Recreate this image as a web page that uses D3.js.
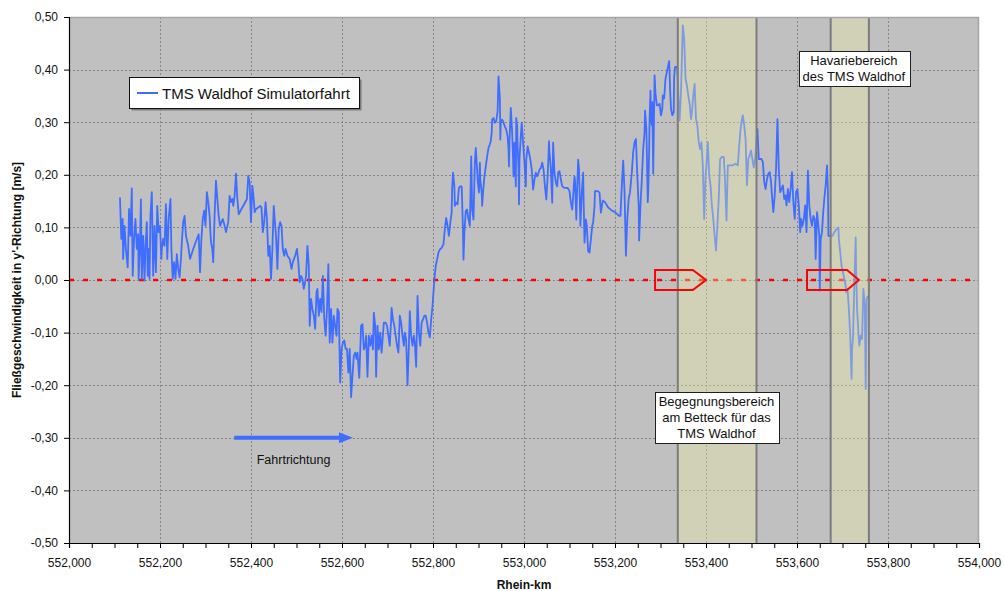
<!DOCTYPE html>
<html>
<head>
<meta charset="utf-8">
<script src="https://cdn.jsdelivr.net/npm/d3@7"></script>
<style>
  body { margin: 0; background: #ffffff; }
  svg text { font-family: "Liberation Sans", Arial, sans-serif; fill: #111; }
</style>
</head>
<body>
<svg id="chart" width="1004" height="591"></svg>
<script>
// Rhein-km of each sample (km)
const rheinKm = [
  552.112,552.115,552.118,552.119,552.122,552.125,552.129,552.132,552.135,552.138,
  552.140,552.143,552.146,552.149,552.152,552.153,552.156,552.158,552.160,552.163,
  552.166,552.168,552.171,552.173,552.175,552.177,552.179,552.182,552.185,552.188,
  552.191,552.194,552.197,552.200,552.203,552.204,552.207,552.210,552.213,552.216,
  552.219,552.223,552.225,552.228,552.231,552.234,552.237,552.240,552.243,552.246,
  552.248,552.251,552.254,552.257,552.262,552.266,552.273,552.281,552.285,552.288,
  552.291,552.294,552.297,552.300,552.303,552.306,552.309,552.312,552.315,552.317,
  552.320,552.323,552.326,552.329,552.332,552.335,552.338,552.342,552.345,552.350,
  552.353,552.356,552.359,552.361,552.364,552.367,552.370,552.373,552.379,552.385,
  552.391,552.394,552.397,552.400,552.403,552.406,552.408,552.411,552.416,552.420,
  552.423,552.426,552.429,552.432,552.435,552.438,552.441,552.444,552.447,552.450,
  552.452,552.455,552.458,552.461,552.464,552.467,552.470,552.473,552.476,552.480,
  552.485,552.489,552.492,552.497,552.501,552.504,552.507,552.510,552.513,552.516,
  552.519,552.521,552.524,552.527,552.529,552.532,552.535,552.538,552.541,552.544,
  552.546,552.549,552.552,552.555,552.558,552.561,552.564,552.567,552.570,552.573,
  552.576,552.579,552.582,552.585,552.588,552.590,552.593,552.596,552.599,552.602,
  552.605,552.608,552.611,552.614,552.617,552.620,552.623,552.626,552.629,552.632,
  552.634,552.638,552.642,552.645,552.648,552.651,552.653,552.656,552.659,552.662,
  552.665,552.668,552.670,552.673,552.675,552.678,552.681,552.684,552.687,552.692,
  552.696,552.699,552.702,552.705,552.708,552.709,552.712,552.715,552.718,552.721,
  552.724,552.727,552.730,552.733,552.736,552.738,552.741,552.744,552.747,552.749,
  552.752,552.755,552.758,552.760,552.763,552.766,552.769,552.772,552.775,552.778,
  552.781,552.784,552.787,552.790,552.793,552.796,552.799,552.801,552.803,552.806,
  552.809,552.812,552.815,552.819,552.823,552.826,552.829,552.832,552.835,552.838,
  552.841,552.842,552.844,552.847,552.848,552.851,552.854,552.857,552.860,552.863,
  552.864,552.866,552.867,552.869,552.872,552.875,552.878,552.881,552.884,552.885,
  552.886,552.889,552.892,552.894,552.897,552.898,552.901,552.903,552.904,552.907,
  552.908,552.910,552.913,552.916,552.919,552.922,552.925,552.927,552.929,552.930,
  552.933,552.936,552.939,552.942,552.944,552.947,552.948,552.949,552.952,552.955,
  552.958,552.961,552.964,552.966,552.967,552.968,552.971,552.974,552.976,552.977,
  552.979,552.982,552.983,552.985,552.986,552.988,552.989,552.990,552.993,552.995,
  552.998,553.001,553.004,553.005,553.008,553.011,553.014,553.017,553.020,553.023,
  553.026,553.029,553.032,553.034,553.037,553.040,553.043,553.046,553.049,553.052,
  553.055,553.056,553.058,553.059,553.062,553.064,553.067,553.070,553.073,553.075,
  553.078,553.081,553.084,553.089,553.096,553.100,553.103,553.106,553.108,553.111,
  553.112,553.115,553.116,553.119,553.121,553.124,553.127,553.130,553.131,553.133,
  553.136,553.138,553.141,553.144,553.147,553.150,553.152,553.155,553.156,553.162,
  553.166,553.169,
  553.173,553.178,553.185,553.193,553.200,553.209,553.212,553.215,553.218,553.221,
  553.224,553.227,553.230,553.233,553.237,553.240,553.243,553.246,553.249,553.252,
  553.253,553.256,553.259,553.262,553.265,553.266,553.269,553.272,553.273,553.275,
  553.276,553.278,553.279,553.281,553.282,553.284,553.287,553.289,553.292,553.295,
  553.298,553.301,553.304,553.305,553.308,553.311,553.314,553.317,553.319,553.320,
  553.321,553.323,553.326,553.329,553.330,553.332,553.335,553.337,553.340,553.342,
  553.345,553.348,553.349,553.352,553.355,553.358,553.361,553.364,553.367,553.369,
  553.372,553.375,553.378,553.381,553.384,553.387,553.390,553.393,553.396,553.399,
  553.401,553.404,553.407,553.410,553.413,553.416,553.419,553.422,553.425,553.428,
  553.431,553.435,553.439,553.442,553.445,553.448,553.451,553.458,553.465,553.470,
  553.473,553.476,553.479,553.481,553.484,553.487,553.490,553.493,553.496,553.499,
  553.502,553.505,553.508,553.511,553.513,553.516,553.519,553.522,553.525,553.528,
  553.531,553.534,553.537,553.540,553.543,553.545,553.548,553.551,553.554,553.557,
  553.560,553.563,553.566,553.569,553.572,553.575,553.577,553.580,553.583,553.586,
  553.589,553.592,553.595,553.598,553.601,553.604,553.607,553.609,553.612,553.615,
  553.618,553.621,553.624,553.627,553.630,553.633,553.636,553.639,553.641,553.644,
  553.647,553.649,553.650,553.652,553.655,553.657,553.660,553.663,553.666,553.668,
  553.669,553.673,553.678,553.682,553.687,553.691,553.692,553.695,553.698,553.701,
  553.704,553.707,553.708,553.711,553.714,553.717,553.720,553.721,553.723,553.726,
  553.729,553.730,553.732,553.735,553.737,553.740,553.743,553.746,553.749,553.751,
  553.753,553.756
];

// Flow velocity in y'-direction (m/s)
const flowSpeed = [
  0.157,0.078,0.116,0.040,0.103,0.059,0.024,0.135,0.084,0.174,
  0.008,0.078,0.116,0.059,0.087,0.002,0.065,0.153,0.002,0.084,
  -0.001,0.059,0.110,0.008,0.059,0.002,0.122,0.167,0.008,0.103,
  0.015,0.141,0.091,0.103,0.040,0.059,0.078,0.065,0.144,0.040,
  0.116,0.154,0.059,0.002,0.034,0.002,0.049,0.021,0.005,0.040,
  0.072,0.110,0.122,0.084,0.065,0.040,0.059,0.078,0.087,0.015,
  0.078,0.116,0.132,0.103,0.167,0.148,0.122,0.072,0.059,0.034,
  0.122,0.189,0.154,0.122,0.103,0.110,0.116,0.103,0.091,0.110,
  0.160,0.148,0.154,0.141,0.160,0.202,0.154,0.125,0.135,0.144,
  0.154,0.198,0.186,0.110,0.179,0.154,0.129,0.135,0.138,0.141,
  0.138,0.091,0.110,0.148,0.116,0.046,0.065,0.002,0.059,0.141,
  0.116,0.084,0.021,0.097,0.110,0.103,0.059,0.046,0.059,0.046,
  0.040,0.021,0.034,0.046,0.059,0.034,-0.004,0.008,0.002,-0.017,
  -0.004,0.008,0.065,0.027,-0.087,-0.036,-0.055,-0.068,-0.093,-0.023,
  -0.017,-0.068,-0.036,-0.061,0.008,-0.074,-0.106,-0.055,0.030,-0.119,
  -0.055,-0.119,-0.068,-0.087,-0.106,-0.055,-0.061,-0.195,-0.131,-0.119,
  -0.115,-0.131,-0.131,-0.176,-0.131,-0.223,-0.182,-0.144,-0.138,-0.150,
  -0.138,-0.186,-0.087,-0.084,-0.132,-0.125,-0.106,-0.184,-0.106,-0.125,
  -0.106,-0.132,-0.062,-0.087,-0.184,-0.087,-0.132,-0.100,-0.138,-0.081,
  -0.081,-0.087,-0.106,-0.125,-0.075,-0.053,-0.075,-0.087,-0.106,-0.125,
  -0.138,-0.068,-0.081,-0.106,-0.125,-0.100,-0.113,-0.200,-0.125,-0.059,
  -0.106,-0.125,-0.106,-0.119,-0.165,-0.030,-0.100,-0.125,-0.081,-0.075,
  -0.068,-0.068,-0.081,-0.100,-0.109,-0.075,-0.049,-0.024,0.001,0.027,
  0.039,0.052,0.058,0.061,0.068,0.096,0.118,0.103,0.084,0.109,
  0.128,0.172,0.204,0.178,0.141,0.147,0.144,0.175,0.178,0.178,
  0.153,0.090,0.039,0.090,0.131,0.134,0.115,0.103,0.235,0.191,
  0.134,0.115,0.223,0.251,0.210,0.191,0.166,0.223,0.191,0.166,
  0.141,0.166,0.197,0.216,0.235,0.251,0.258,0.264,0.280,0.305,
  0.308,0.299,0.302,0.321,0.387,0.343,0.267,0.302,0.305,0.299,
  0.292,0.286,0.273,0.248,0.216,0.261,0.327,0.280,0.229,0.197,
  0.261,0.178,0.308,0.292,0.254,0.210,0.144,0.229,0.273,0.299,
  0.261,0.223,0.178,0.229,0.254,0.242,0.229,0.210,0.172,0.191,
  0.204,0.197,0.204,0.210,0.213,0.223,0.210,0.178,0.153,0.197,
  0.264,0.242,0.223,0.210,0.147,0.261,0.204,0.185,0.178,0.204,
  0.207,0.191,0.178,0.175,0.175,0.169,0.147,0.134,0.159,0.197,
  0.191,0.115,0.153,0.229,0.210,0.103,0.166,0.204,0.153,0.071,
  0.115,0.103,0.055,0.052,0.077,0.103,0.109,0.141,0.169,0.169,
  0.166,0.128,
  0.151,0.148,0.138,0.132,0.129,0.122,0.122,0.180,0.227,0.167,
  0.046,0.116,0.154,0.167,0.205,0.243,0.262,0.268,0.199,0.142,
  0.075,0.142,0.192,0.249,0.281,0.322,0.287,0.148,0.167,0.243,
  0.306,0.360,0.306,0.294,0.338,0.202,0.389,0.354,0.332,0.332,
  0.335,0.313,0.326,0.351,0.345,0.383,0.395,0.408,0.416,0.395,
  0.364,0.326,0.313,0.319,0.386,0.405,0.405,0.402,0.338,0.303,
  0.357,0.452,0.484,0.459,0.383,0.370,0.351,0.335,0.306,0.319,
  0.351,0.373,0.306,0.294,0.262,0.249,0.262,0.218,0.116,0.199,
  0.218,0.262,0.199,0.180,0.141,0.116,0.084,0.056,0.103,0.154,
  0.230,0.234,0.234,0.186,0.113,0.218,0.218,0.218,0.221,0.218,
  0.256,0.287,0.306,0.313,0.294,0.268,0.180,0.230,0.237,0.246,
  0.230,0.214,0.230,0.268,0.287,0.230,0.230,0.230,0.224,0.186,
  0.173,0.192,0.202,0.205,0.186,0.161,0.129,0.161,0.211,0.306,
  0.211,0.167,0.173,0.180,0.154,0.161,0.142,0.173,0.148,0.173,
  0.205,0.148,0.116,0.167,0.173,0.142,0.091,0.116,0.103,0.116,
  0.142,0.091,0.208,0.142,0.116,0.103,0.122,0.116,0.040,0.129,
  0.103,0.084,-0.020,0.078,0.091,0.122,0.154,0.180,0.218,0.167,
  0.084,0.084,0.084,0.091,0.097,0.100,0.078,0.053,0.027,0.015,
  0.002,-0.011,-0.023,-0.017,-0.055,-0.106,-0.188,-0.131,-0.112,-0.011,
  0.081,0.015,-0.055,-0.100,-0.125,-0.106,-0.112,-0.017,-0.049,-0.207,
  -0.036,-0.030
];

// Axis ticks
const xMajorTicks = [552.0, 552.2, 552.4, 552.6, 552.8, 553.0, 553.2, 553.4, 553.6, 553.8, 554.0];
const xMinorTicks = d3.range(0, 41).map(i => 552 + i * 0.05);
const yTicks = [-0.5, -0.4, -0.3, -0.2, -0.1, 0.0, 0.1, 0.2, 0.3, 0.4, 0.5];

// Highlighted reaches (km from / to)
const zoneStart = [553.338, 553.674];
const zoneEnd   = [553.511, 553.758];

// Red outline arrows on the zero line: start, shoulder, tip (km) and half height (m/s)
const markerStart    = [553.288, 553.622];
const markerShoulder = [553.371, 553.710];
const markerTip      = [553.400, 553.736];
const markerHalf = 0.019;

// Direction-of-travel arrow (km, m/s)
const travelFrom = 552.363, travelTo = 552.624, travelLevel = -0.30;

const seriesName = "TMS Waldhof Simulatorfahrt";

const notes = [
  { lines: ["Havariebereich", "des TMS Waldhof"], km: 553.725, v: 0.403 },
  { lines: ["Begegnungsbereich", "am Betteck für das", "TMS Waldhof"], km: 553.423, v: -0.261 }
];

// ---------------------------------------------------------------------------
const svg = d3.select("#chart");
const plot = { left: 69, top: 17, right: 979, bottom: 543 };

const x = d3.scaleLinear().domain([552, 554]).range([plot.left, plot.right]);
const y = d3.scaleLinear().domain([-0.5, 0.5]).range([plot.bottom, plot.top]);

const de = d3.formatLocale({ decimal: ",", thousands: ".", grouping: [3], currency: ["", " €"], minus: "-" });
const fmtKm = de.format(".3f");
const fmtV = de.format(".2f");

const blue = "#3f6dff";

// plot background
svg.append("rect")
  .attr("x", plot.left).attr("y", plot.top)
  .attr("width", plot.right - plot.left).attr("height", plot.bottom - plot.top)
  .attr("fill", "#c0c0c0");

// grid
const grid = svg.append("g").attr("stroke", "#858585").attr("stroke-width", 1)
  .attr("stroke-dasharray", "2,2").attr("shape-rendering", "crispEdges");
grid.selectAll("line.h").data(yTicks.filter(t => t > -0.5 && t < 0.5)).join("line")
  .attr("x1", plot.left).attr("x2", plot.right)
  .attr("y1", d => Math.round(y(d)) + 0.5).attr("y2", d => Math.round(y(d)) + 0.5);
grid.selectAll("line.v").data(xMajorTicks.filter(t => t > 552 && t < 554)).join("line")
  .attr("y1", plot.top).attr("y2", plot.bottom)
  .attr("x1", d => Math.round(x(d)) + 0.5).attr("x2", d => Math.round(x(d)) + 0.5);

// zero reference line
svg.append("line")
  .attr("x1", plot.left).attr("x2", plot.right)
  .attr("y1", y(0)).attr("y2", y(0))
  .attr("stroke", "#ff0000").attr("stroke-width", 2.6)
  .attr("stroke-dasharray", "5,9");

// measured series
const series = rheinKm.map((k, i) => [k, flowSpeed[i]]);
svg.append("path")
  .datum(series)
  .attr("fill", "none")
  .attr("stroke", blue)
  .attr("stroke-width", 1.8)
  .attr("stroke-linejoin", "round")
  .attr("d", d3.line().x(d => x(d[0])).y(d => y(d[1])));

// highlighted reaches (translucent, over the series)
const zones = zoneStart.map((s, i) => [s, zoneEnd[i]]);
svg.append("g").selectAll("rect").data(zones).join("rect")
  .attr("x", d => x(d[0])).attr("y", plot.top)
  .attr("width", d => x(d[1]) - x(d[0])).attr("height", plot.bottom - plot.top)
  .attr("fill", "rgb(238,238,170)").attr("fill-opacity", 0.36);
svg.append("g").selectAll("line").data(zones.flat()).join("line")
  .attr("x1", d => x(d)).attr("x2", d => x(d))
  .attr("y1", plot.top).attr("y2", plot.bottom)
  .attr("stroke", "#7c7c7c").attr("stroke-width", 2);

// red outline arrows
svg.append("g").selectAll("path").data(markerStart.map((s, i) => i)).join("path")
  .attr("d", i => {
    const x0 = x(markerStart[i]), x1 = x(markerShoulder[i]), x2 = x(markerTip[i]);
    const yt = y(markerHalf), yb = y(-markerHalf), ym = y(0);
    return `M${x0},${yt}L${x1},${yt}L${x2},${ym}L${x1},${yb}L${x0},${yb}Z`;
  })
  .attr("fill", "none").attr("stroke", "#ff0000").attr("stroke-width", 2)
  .attr("stroke-linejoin", "miter");

// direction of travel
{
  const xa = x(travelFrom), xb = x(travelTo), ya = y(travelLevel);
  svg.append("line")
    .attr("x1", xa).attr("x2", xb - 12).attr("y1", ya).attr("y2", ya)
    .attr("stroke", blue).attr("stroke-width", 4);
  svg.append("path")
    .attr("d", `M${xb - 14},${ya - 5.5}L${xb},${ya}L${xb - 14},${ya + 5.5}Z`)
    .attr("fill", blue);
  svg.append("text")
    .attr("x", (xa + xb) / 2).attr("y", ya + 26)
    .attr("text-anchor", "middle").attr("font-size", 12.5)
    .text("Fahrtrichtung");
}

// annotation boxes
notes.forEach(n => {
  const g = svg.append("g");
  const cx = x(n.km), cy = y(n.v);
  const lh = 16;
  const rect = g.append("rect");
  const t = g.append("text").attr("text-anchor", "middle").attr("font-size", 13);
  n.lines.forEach((l, i) => {
    t.append("tspan").attr("x", cx)
      .attr("y", cy + (i - (n.lines.length - 1) / 2) * lh + 4.5)
      .text(l);
  });
  const bb = t.node().getBBox();
  rect.attr("x", Math.round(bb.x - 4) + 0.5).attr("y", Math.round(bb.y - 2) + 0.5)
    .attr("width", Math.round(bb.width + 8)).attr("height", Math.round(bb.height + 4))
    .attr("fill", "#ffffff").attr("stroke", "#202020").attr("stroke-width", 1);
});

// legend
{
  const lg = svg.append("g");
  lg.append("rect").attr("x", 131.5).attr("y", 79.5).attr("width", 230).attr("height", 31)
    .attr("fill", "#7a7a7a");
  lg.append("rect").attr("x", 129.5).attr("y", 77.5).attr("width", 230).attr("height", 31)
    .attr("fill", "#ffffff").attr("stroke", "#111").attr("stroke-width", 1);
  lg.append("line").attr("x1", 137).attr("x2", 158).attr("y1", 93).attr("y2", 93)
    .attr("stroke", blue).attr("stroke-width", 2);
  lg.append("text").attr("x", 162).attr("y", 98.5).attr("font-size", 15).text(seriesName);
}

// plot frame (top/right)
svg.append("path")
  .attr("d", `M${plot.left},${plot.top + 0.5}H${plot.right - 0.5}V${plot.bottom}`)
  .attr("fill", "none").attr("stroke", "#a6a6a6").attr("stroke-width", 1.5);

// axes
const yAxis = svg.append("g").attr("transform", `translate(${plot.left},0)`)
  .call(d3.axisLeft(y).tickValues(yTicks).tickFormat(fmtV).tickSize(5).tickPadding(6));
const xAxisMinor = svg.append("g").attr("transform", `translate(0,${plot.bottom})`)
  .call(d3.axisBottom(x).tickValues(xMinorTicks).tickFormat("").tickSize(5));
const xAxis = svg.append("g").attr("transform", `translate(0,${plot.bottom})`)
  .call(d3.axisBottom(x).tickValues(xMajorTicks).tickFormat(fmtKm).tickSize(5).tickPadding(10));

[yAxis, xAxis, xAxisMinor].forEach(a => {
  a.select(".domain").attr("stroke", "#000").attr("stroke-width", 1.2);
  a.selectAll(".tick line").attr("stroke", "#000");
  a.selectAll("text").attr("font-size", 12)
    .attr("font-family", "'Liberation Sans', Arial, sans-serif").attr("fill", "#1a1a1a");
});
xAxisMinor.select(".domain").remove();

// axis titles
svg.append("text")
  .attr("transform", `translate(17,${(plot.top + plot.bottom) / 2}) rotate(-90)`)
  .attr("text-anchor", "middle").attr("dy", "0.35em")
  .attr("font-size", 12).attr("font-weight", "bold")
  .text("Fließgeschwindigkeit in y'-Richtung [m/s]");
svg.append("text")
  .attr("x", (plot.left + plot.right) / 2).attr("y", 589)
  .attr("text-anchor", "middle")
  .attr("font-size", 12).attr("font-weight", "bold")
  .text("Rhein-km");
</script>
</body>
</html>
